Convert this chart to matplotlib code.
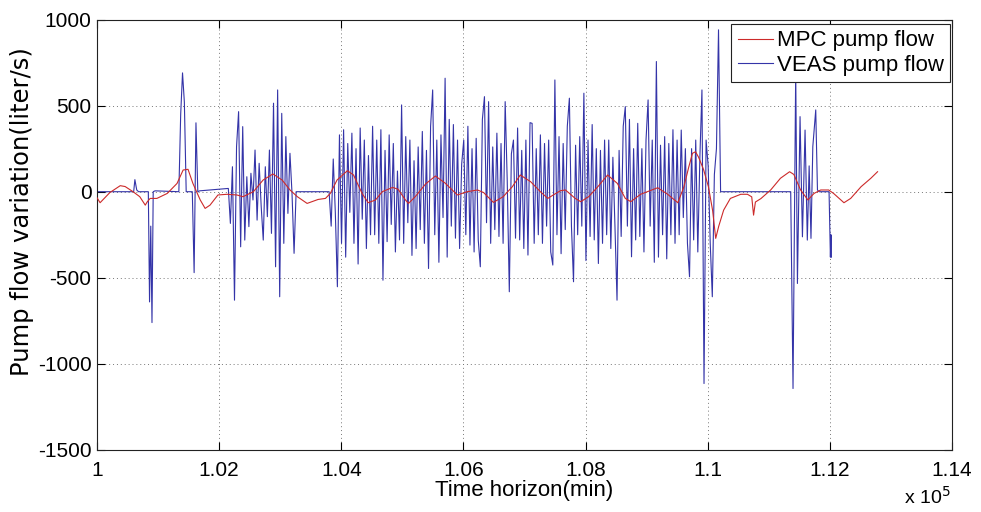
import numpy as np
import matplotlib
matplotlib.use("Agg")
import matplotlib.pyplot as plt

# MPC pump flow (smooth curve), time in min, flow in liter/s
mpc_t = [100000, 100050, 100210, 100380, 100460, 100590, 100700, 100790, 100820, 100870,
         100980, 101150, 101310, 101410, 101490, 101570, 101690, 101770, 101850, 101980,
         102130, 102290, 102390, 102560, 102720, 102880, 103030, 103160, 103280, 103440,
         103620, 103740, 103820, 103930, 104100, 104200, 104340, 104440, 104560, 104670,
         104840, 104930, 105050, 105100, 105210, 105380, 105540, 105700, 105900, 106060,
         106230, 106330, 106490, 106650, 106800, 106930, 107100, 107260, 107380, 107470,
         107590, 107670, 107830, 107920, 108050, 108200, 108360, 108520, 108650, 108740,
         108900, 109180, 109340, 109510, 109610, 109690, 109750, 109800, 109850, 109930,
         110010, 110080, 110130, 110180, 110260, 110370, 110540, 110650, 110720, 110750,
         110780, 110870, 111030, 111190, 111340, 111410, 111520, 111640, 111740, 111850,
         111980, 112060, 112230, 112340, 112510, 112670, 112780]
mpc_v = [-35, -64, -5, 35, 30, 0, -29, -78, -60, -39,
         -39, -10, 48, 126, 130, 48, -48, -97, -78, -19,
         -15, -19, -29, 0, 68, 103, 68, 10, -29, -68,
         -45, -39, -10, 68, 122, 97, -10, -64, -48, 0,
         25, 14, -48, -68, -29, 45, 91, 50, -19, 0,
         10, -5, -62, -29, 29, 97, 58, 0, -39, -19,
         6, 10, -39, -58, -29, 29, 97, 48, -39, -58,
         -15, 23, -14, -64, 29, 145, 223, 232, 200, 130,
         30, -110, -271, -200, -107, -39, -15, -15, -30, -136,
         -60, -40, 10, 78, 116, 100, 10, -48, -10, 10,
         10, -10, -64, -39, 29, 78, 116]

# VEAS pump flow: isolated spikes before the first burst
veas_pre_t = [100000, 100600, 100620, 100650, 100680, 100700, 100840, 100860, 100880, 100900,
              100920, 100950, 101340, 101370, 101400, 101430, 101460, 101560, 101590, 101620,
              101650, 101680]
veas_pre_v = [0, 0, 70, 10, 0, 0, 0, -640, -200, -760,
              0, 5, 0, 450, 690, 520, 0, 0, -470, 400,
              0, 5]

# first burst (1.0215e5 .. 1.0326e5)
burst1_range = (102150, 103260)
burst1_v = [19, -184, 145, -630, 262, 465, -320, 378, -281, 87,
            -203, 107, -48, 242, -165, 165, -87, -281, 145, -145,
            242, -242, 514, -436, 591, -610, 455, -300, 320, -126,
            223, -10, -358, 0]

# main burst (1.038e5 .. 1.1021e5)
burst2_range = (103800, 110210)
burst2_v = [0, -200, 190, -120, -552, 330, -300, 360, -380, 280,
            -120, 340, -300, 250, -420, 370, -160, 300, -330, 210,
            -250, 380, -250, 300, -300, 360, -514, 240, -290, 330,
            -190, 280, -350, 120, -280, 504, -300, 320, -180, 300,
            -370, 180, -330, 260, -220, 350, -300, 240, -446, 380,
            591, -250, 300, -410, 330, -150, 659, -380, 420, -200,
            390, -270, 300, -330, 160, 300, -250, 380, -310, 250,
            -350, 310, -280, -436, 420, 552, -180, 523, -300, 260,
            -220, 340, -260, 280, -300, 523, 60, -581, 220, 300,
            -270, 370, -280, 240, -330, 300, -368, 401, 397, -300,
            250, -250, 330, -300, 280, -200, 300, -350, -426, 649,
            -250, 320, -360, 280, -220, 380, 543, -200, -523, 270,
            -250, 320, -200, 572, -400, 300, -260, 390, -280, 250,
            -417, 240, -300, 300, -250, 300, -330, 200, -200, -630,
            240, -260, 380, 494, -200, 420, -378, 250, -280, 397,
            -260, 250, -350, 300, 533, -200, 300, -410, 756, -380,
            270, -250, 320, -390, 280, -250, 360, -300, 300, -250,
            358, -150, 250, -300, -494, 250, -280, 300, -350, 200,
            591, -1114, 300, 150, -300, -610, 100, 250, 940, 0]

# last burst
veas_post_t = [111358, 111396, 111440, 111468, 111511, 111550, 111593, 111630, 111660, 111690,
               111720, 111768, 111796, 111822, 111986, 112008, 112017, 112025]
veas_post_v = [0, -1143, 700, -533, 436, -262, 358, -281, 150, -271,
               262, 475, 10, 0, 0, -380, -250, -380]

xtick_vals = [100000, 102000, 104000, 106000, 108000, 110000, 112000, 114000]
xtick_labels = ["1", "1.02", "1.04", "1.06", "1.08", "1.1", "1.12", "1.14"]
ytick_vals = [-1500, -1000, -500, 0, 500, 1000]

# assemble the VEAS series
veas_t = np.concatenate([
    veas_pre_t,
    np.linspace(*burst1_range, len(burst1_v)),
    np.linspace(*burst2_range, len(burst2_v)),
    veas_post_t,
])
veas_v = np.concatenate([veas_pre_v, burst1_v, burst2_v, veas_post_v])

font = ["Liberation Sans", "DejaVu Sans"]

fig = plt.figure(figsize=(9.81, 5.12), dpi=100)
ax = fig.add_axes([0.0989, 0.1211, 0.8716, 0.8408])

ax.plot(veas_t, veas_v, color="#3434a8", lw=0.8, label="VEAS pump flow", zorder=2)
ax.plot(mpc_t, mpc_v, color="#cc2a2a", lw=0.8, label="MPC pump flow", zorder=3)

ax.set_xlim(100000, 114000)
ax.set_ylim(-1500, 1000)
ax.set_xticks(xtick_vals)
ax.set_xticklabels(xtick_labels, family=font, fontsize=15)
ax.set_yticks(ytick_vals)
ax.set_yticklabels([str(v) for v in ytick_vals], family=font, fontsize=15)
ax.tick_params(direction="in", length=6, top=True, right=True, width=0.8, pad=4)
ax.tick_params(axis="x", pad=8)
ax.grid(True, color="#777777", linestyle=(0, (1, 3)), lw=0.7)
for s in ax.spines.values():
    s.set_linewidth(0.8)
    s.set_color("#222222")

ax.set_xlabel("Time horizon(min)", family=font, fontsize=16, labelpad=0)
ax.set_ylabel("Pump flow variation(liter/s)", family="DejaVu Sans", fontsize=17.5)
ax.yaxis.set_label_coords(-0.074, 0.555)
fig.text(0.922, 0.016, r"x 10$^5$", family=font, fontsize=14)

handles, labels = ax.get_legend_handles_labels()
leg = ax.legend(handles[::-1], labels[::-1], loc="upper right", bbox_to_anchor=(0.998, 0.99),
                borderaxespad=0, fancybox=False, framealpha=1, edgecolor="#222222",
                handlelength=1.6, handletextpad=0.15, borderpad=0.3, labelspacing=0.15,
                prop={"family": "Liberation Sans", "size": 16})
leg.get_frame().set_linewidth(0.8)

fig.savefig("out.png", dpi=100)
